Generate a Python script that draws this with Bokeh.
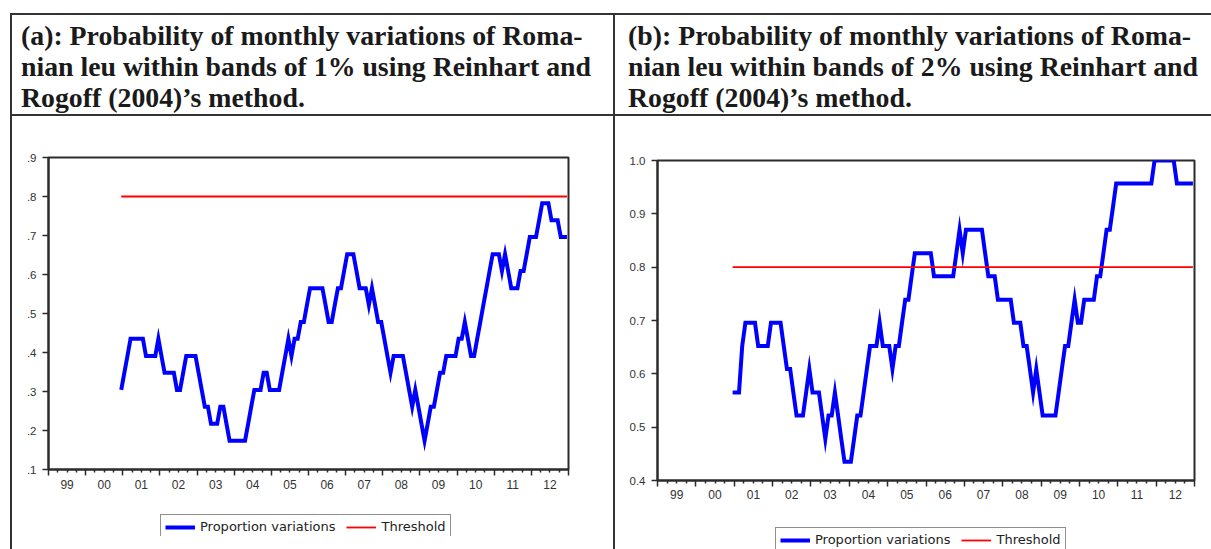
import pandas as pd
from bokeh.plotting import figure
from bokeh.models import (Range1d, FixedTicker, LinearAxis, Legend, LegendItem,
                          Div, Spacer)
from bokeh.layouts import row, column
from bokeh.embed import file_html
from bokeh.resources import INLINE

# ---------------- data ----------------
start_month = "2000-12"
end_month = "2012-12"

# panel (a): proportion of monthly variations within 1% bands
prop_band1 = [
    0.304, 0.348, 0.391, 0.435, 0.435, 0.435, 0.435, 0.435, 0.391, 0.391,
    0.391, 0.391, 0.435, 0.391, 0.348, 0.348, 0.348, 0.348, 0.304, 0.304,
    0.348, 0.391, 0.391, 0.391, 0.391, 0.348, 0.304, 0.261, 0.261, 0.217,
    0.217, 0.217, 0.261, 0.261, 0.217, 0.174, 0.174, 0.174, 0.174, 0.174,
    0.174, 0.217, 0.261, 0.304, 0.304, 0.304, 0.348, 0.348, 0.304, 0.304,
    0.304, 0.304, 0.348, 0.391, 0.435, 0.391, 0.435, 0.435, 0.478, 0.478,
    0.522, 0.565, 0.565, 0.565, 0.565, 0.565, 0.522, 0.478, 0.478, 0.522,
    0.565, 0.565, 0.609, 0.652, 0.652, 0.652, 0.609, 0.565, 0.565, 0.565,
    0.522, 0.565, 0.522, 0.478, 0.478, 0.435, 0.391, 0.348, 0.391, 0.391,
    0.391, 0.391, 0.348, 0.304, 0.261, 0.304, 0.261, 0.217, 0.174, 0.217,
    0.261, 0.261, 0.304, 0.348, 0.348, 0.391, 0.391, 0.391, 0.391, 0.435,
    0.435, 0.478, 0.435, 0.391, 0.391, 0.435, 0.478, 0.522, 0.565, 0.609,
    0.652, 0.652, 0.652, 0.609, 0.652, 0.609, 0.565, 0.565, 0.565, 0.609,
    0.609, 0.652, 0.696, 0.696, 0.696, 0.739, 0.783, 0.783, 0.783, 0.739,
    0.739, 0.739, 0.696, 0.696, 0.696,
]

# panel (b): proportion of monthly variations within 2% bands
prop_band2 = [
    0.565, 0.565, 0.565, 0.652, 0.696, 0.696, 0.696, 0.696, 0.652, 0.652,
    0.652, 0.652, 0.696, 0.696, 0.696, 0.696, 0.652, 0.609, 0.609, 0.565,
    0.522, 0.522, 0.522, 0.565, 0.609, 0.565, 0.565, 0.565, 0.522, 0.478,
    0.522, 0.522, 0.565, 0.522, 0.478, 0.435, 0.435, 0.435, 0.478, 0.522,
    0.522, 0.565, 0.609, 0.652, 0.652, 0.652, 0.696, 0.652, 0.652, 0.652,
    0.609, 0.652, 0.652, 0.696, 0.739, 0.739, 0.783, 0.826, 0.826, 0.826,
    0.826, 0.826, 0.826, 0.783, 0.783, 0.783, 0.783, 0.783, 0.783, 0.783,
    0.826, 0.870, 0.826, 0.870, 0.870, 0.870, 0.870, 0.870, 0.870, 0.826,
    0.783, 0.783, 0.783, 0.739, 0.739, 0.739, 0.739, 0.739, 0.696, 0.696,
    0.696, 0.652, 0.652, 0.609, 0.565, 0.609, 0.565, 0.522, 0.522, 0.522,
    0.522, 0.522, 0.565, 0.609, 0.652, 0.652, 0.696, 0.739, 0.696, 0.696,
    0.739, 0.739, 0.739, 0.739, 0.783, 0.783, 0.826, 0.870, 0.870, 0.913,
    0.957, 0.957, 0.957, 0.957, 0.957, 0.957, 0.957, 0.957, 0.957, 0.957,
    0.957, 0.957, 1.0, 1.0, 1.0, 1.0, 1.0, 1.0, 1.0, 0.957,
    0.957, 0.957, 0.957, 0.957, 0.957,
]

threshold = 0.8

first_year, last_year = 1999, 2012
year_labels = ["99", "00", "01", "02", "03", "04", "05", "06",
               "07", "08", "09", "10", "11", "12"]

ya_ticks = [0.1, 0.2, 0.3, 0.4, 0.5, 0.6, 0.7, 0.8, 0.9]
ya_labels = [".1", ".2", ".3", ".4", ".5", ".6", ".7", ".8", ".9"]
yb_ticks = [0.4, 0.5, 0.6, 0.7, 0.8, 0.9, 1.0]
yb_labels = ["0.4", "0.5", "0.6", "0.7", "0.8", "0.9", "1.0"]

legend_labels = ["Proportion variations", "Threshold"]

title_a = ("(a): Probability of monthly variations of Roma-<br>"
           "nian leu within bands of 1% using Reinhart and<br>"
           "Rogoff (2004)’s method.")
title_b = ("(b): Probability of monthly variations of Roma-<br>"
           "nian leu within bands of 2% using Reinhart and<br>"
           "Rogoff (2004)’s method.")

# ---------------- helpers ----------------
months = pd.period_range(start_month, end_month, freq="M")
xs = [m.year + (m.month - 0.5) / 12.0 for m in months]

year_bounds = list(range(first_year, last_year + 2))
quarters = [y + q / 4.0 for y in range(first_year, last_year + 1) for q in (1, 2, 3)]
year_centers = [y + 0.5 for y in range(first_year, last_year + 1)]

LINE = "#2b2b2b"
AX_FONT = "Liberation Sans"
BLUE = "#0000ff"
RED = "#ff0000"
BLUE_W = 4
RED_W = 1.8


def make_chart(values, y_lo, y_hi, yticks, ylabels, width, height,
               bl, br, bt, bb, label_standoff):
    p = figure(width=width, height=height,
               x_range=Range1d(first_year, last_year + 1),
               y_range=Range1d(y_lo, y_hi),
               x_axis_type=None, y_axis_type=None,
               output_backend="svg", toolbar_location=None,
               min_border_left=bl, min_border_right=br,
               min_border_top=bt, min_border_bottom=bb)
    p.outline_line_color = LINE
    p.outline_line_width = 2
    p.background_fill_color = "white"
    p.border_fill_color = "white"

    yax = LinearAxis(ticker=FixedTicker(ticks=yticks),
                     major_label_overrides=dict(zip(yticks, ylabels)),
                     axis_line_color=LINE, axis_line_width=2,
                     major_tick_line_color=LINE, major_tick_line_width=1.5,
                     major_tick_out=6, major_tick_in=0,
                     minor_tick_line_color=None,
                     major_label_standoff=6,
                     major_label_text_font=AX_FONT,
                     major_label_text_font_size="11.5px",
                     major_label_text_color="#333333")
    p.add_layout(yax, "left")

    # year boundaries (long ticks) and quarters (short ticks), no labels
    xax = LinearAxis(ticker=FixedTicker(ticks=year_bounds, minor_ticks=quarters),
                     major_label_overrides={b: "" for b in year_bounds},
                     major_label_text_font_size="1px",
                     axis_line_color=LINE, axis_line_width=2,
                     major_tick_line_color=LINE, major_tick_line_width=1.5,
                     major_tick_out=6, major_tick_in=0,
                     minor_tick_line_color=LINE, minor_tick_line_width=1.5,
                     minor_tick_out=3, minor_tick_in=0,
                     major_label_standoff=0)
    p.add_layout(xax, "below")

    # year labels centred in each year
    xlab = LinearAxis(ticker=FixedTicker(ticks=year_centers),
                      major_label_overrides=dict(zip(year_centers, year_labels)),
                      axis_line_color=None, major_tick_line_color=None,
                      minor_tick_line_color=None,
                      major_tick_out=0, major_tick_in=0,
                      major_label_standoff=label_standoff,
                      major_label_text_font=AX_FONT,
                      major_label_text_font_size="12px",
                      major_label_text_color="#333333")
    p.add_layout(xlab, "below")

    p.line(xs, values, line_color=BLUE, line_width=BLUE_W, line_join="miter")
    p.line(xs, [threshold] * len(xs), line_color=RED, line_width=RED_W)
    return p


def make_legend(width, height):
    # a small legend-only canvas; its sample lines lie outside the view
    p = figure(width=width, height=height, x_range=Range1d(0, 1),
               y_range=Range1d(0, 1), x_axis_type=None, y_axis_type=None,
               output_backend="svg", toolbar_location=None, min_border=0)
    p.outline_line_color = None
    r1 = p.line(x=[5, 6], y=[5, 6], line_color=BLUE, line_width=BLUE_W)
    r2 = p.line(x=[5, 6], y=[5, 6], line_color=RED, line_width=RED_W)
    leg = Legend(items=[LegendItem(label=legend_labels[0], renderers=[r1]),
                        LegendItem(label=legend_labels[1], renderers=[r2])],
                 location="top_left", orientation="horizontal",
                 glyph_width=30, glyph_height=14, label_height=14,
                 label_standoff=5, spacing=11, padding=4, margin=0,
                 border_line_color="#222222", border_line_width=1.5,
                 background_fill_color="white", background_fill_alpha=1,
                 label_text_font="DejaVu Sans", label_text_font_size="13px",
                 label_text_color="#222222")
    p.add_layout(leg)
    return p


fig_a = make_chart(prop_band1, 0.1, 0.9, ya_ticks, ya_labels,
                   601, 389, 36, 45, 41, 36, 4)
fig_b = make_chart(prop_band2, 0.4, 1.0, yb_ticks, yb_labels,
                   596, 404, 42, 17, 44, 40, 3)

# legend blocks: fig_a ends at y=505, legend box top at 514 (bottom edge cut)
leg_a = column(Spacer(width=601, height=9),
               row(Spacer(width=148, height=22), make_legend(453, 22)))
# fig_b ends at y=520, legend box top at 528 (bottom edge cut at 549)
leg_b = column(Spacer(width=596, height=7),
               row(Spacer(width=160, height=22), make_legend(436, 22)))


def bar(w, h):
    return Div(text="", width=w, height=h, margin=0,
               styles={"background-color": "#333333"})


def title_div(html, w, pad_left):
    style = ("font-family:'Liberation Serif';font-weight:bold;font-size:27.8px;"
             "line-height:31px;color:#1a1a1a;white-space:nowrap;"
             f"padding:5px 0 0 {pad_left}px;margin:0;")
    return Div(text=f'<div style="{style}">{html}</div>', width=w, height=99,
               margin=0, styles={"overflow": "hidden"})


layout = column(
    Spacer(width=1211, height=13),
    row(Spacer(width=10, height=2), bar(1201, 2)),
    row(Spacer(width=10, height=99), bar(2, 99), title_div(title_a, 601, 9),
        bar(2, 99), title_div(title_b, 596, 13)),
    row(Spacer(width=10, height=2), bar(1201, 2)),
    row(Spacer(width=10, height=433), bar(2, 433),
        column(fig_a, leg_a, Spacer(width=601, height=13)),
        bar(2, 433), column(fig_b, leg_b)),
)

open("out.html", "w").write(file_html(layout, INLINE))
